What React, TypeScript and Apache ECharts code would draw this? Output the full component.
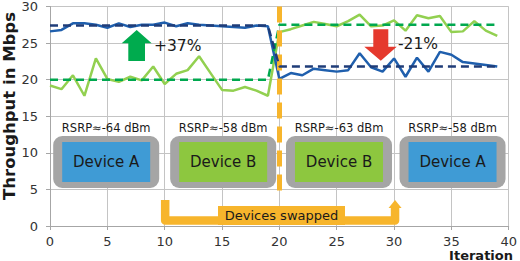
import React, { useEffect, useRef } from "react";
import * as echarts from "echarts";

const iterations = [0, 1, 2, 3, 4, 5, 6, 7, 8, 9, 10, 11, 12, 13, 14, 15, 16, 17, 18, 19, 20, 21, 22, 23, 24, 25, 26, 27, 28, 29, 30, 31, 32, 33, 34, 35, 36, 37, 38, 39];
const blueValues = [26.6, 26.8, 27.7, 27.7, 27.5, 27.1, 27.7, 27.2, 27.5, 27.5, 27.8, 27.3, 27.7, 27.5, 27.4, 27.3, 27.2, 27.1, 27.4, 27.3, 20.1, 20.9, 20.6, 21.5, 21.3, 21.1, 21.3, 23.6, 21.7, 21.1, 22.9, 20.4, 23.0, 21.1, 23.8, 23.4, 22.4, 22.2, 22.0, 21.8];
const greenValues = [19.2, 18.7, 20.6, 17.8, 22.9, 20.1, 19.7, 20.4, 19.9, 21.8, 19.4, 20.8, 21.3, 23.2, 20.9, 18.6, 18.5, 19.0, 18.5, 17.8, 26.5, 26.9, 27.4, 27.9, 27.6, 27.3, 28.0, 28.9, 27.3, 27.4, 28.1, 26.7, 28.8, 28.4, 28.7, 26.5, 26.6, 28.0, 26.7, 26.0];
const meanX = [0, 19, 20, 39];
const blueMean = [27.4, 27.4, 21.8, 21.8];
const greenMean = [20.0, 20.0, 27.5, 27.5];
const swapIteration = 20;
const boxCenters = [4.9, 15.1, 25.2, 35.1];
const rsrpLabels = ["RSRP≈-64 dBm", "RSRP≈-58 dBm", "RSRP≈-63 dBm", "RSRP≈-58 dBm"];
const deviceLabels = ["Device A", "Device B", "Device B", "Device A"];
const swapFrom = 10;
const swapTo = 30;

const FONT = "DejaVu Sans";
const ORANGE = "#F7B52C";
const DEVICE_FILL: Record<string, string> = { "Device A": "#3F9BD5", "Device B": "#8DC73F" };

export default function App() {
  const ref = useRef<HTMLDivElement>(null);
  useEffect(() => {
    document.body.style.margin = "0";
    const chart = echarts.init(ref.current!, undefined, { renderer: "svg" });
    const pair = (vals: number[], xs: number[]) => xs.map((x, i) => [x, vals[i]]);
    chart.setOption({
      animation: false,
      textStyle: { fontFamily: FONT },
      grid: { left: 50, right: 9, top: 6, bottom: 35 },
      xAxis: {
        type: "value", min: 0, max: 40, interval: 5,
        axisLine: { lineStyle: { color: "#A6A6A6", width: 1 } },
        axisTick: { show: true, length: 4, lineStyle: { color: "#A6A6A6" } },
        axisLabel: { fontSize: 13, color: "#333", margin: 9, fontFamily: FONT },
        splitLine: { lineStyle: { color: "#C4C4C4", width: 1 } },
      },
      yAxis: {
        type: "value", min: 0, max: 30, interval: 5,
        axisLine: { show: true, lineStyle: { color: "#A6A6A6", width: 1 } },
        axisTick: { show: true, length: 4, lineStyle: { color: "#A6A6A6" } },
        axisLabel: { fontSize: 13, color: "#333", margin: 12, fontFamily: FONT },
        splitLine: { lineStyle: { color: "#C4C4C4", width: 1 } },
      },
      series: [
        { type: "line", data: pair(greenValues, iterations), symbol: "none", lineStyle: { color: "#92D050", width: 2.5 }, z: 2 },
        { type: "line", data: pair(blueValues, iterations), symbol: "none", lineStyle: { color: "#1F5FAD", width: 2.5 }, z: 3 },
        { type: "line", data: pair(greenMean, meanX), symbol: "none", lineStyle: { color: "#00A84F", width: 2.5, type: [8, 5] }, z: 4 },
        {
          type: "line", data: pair(blueMean, meanX), symbol: "none", lineStyle: { color: "#1F3C78", width: 2.5, type: [8, 5] }, z: 5,
          markLine: {
            silent: true, symbol: "none", label: { show: false },
            lineStyle: { color: ORANGE, width: 5, type: [16, 8] },
            data: [[{ coord: [swapIteration, 30] }, { coord: [swapIteration, 4] }]],
          },
        },
      ],
    });

    const P = (x: number, y: number) => chart.convertToPixel({ gridIndex: 0 }, [x, y]) as number[];
    const g: any[] = [];
    boxCenters.forEach((c, i) => {
      const cx = P(c, 0)[0];
      const W = 106, H = 52, top = 136;
      g.push({ type: "rect", shape: { x: cx - W / 2, y: top, width: W, height: H, r: 9 }, style: { fill: "#A5A5A5" }, z: 10 });
      g.push({ type: "rect", shape: { x: cx - W / 2 + 9, y: top + 6, width: W - 18, height: H - 12 }, style: { fill: DEVICE_FILL[deviceLabels[i]] }, z: 11 });
      g.push({ type: "text", x: cx, y: top + H / 2, style: { text: deviceLabels[i], font: `15px '${FONT}'`, fill: "#1a1a1a", textAlign: "center", textVerticalAlign: "middle" }, z: 12 });
      g.push({ type: "text", x: cx, y: 127.5, style: { text: rsrpLabels[i], font: `11.5px '${FONT}'`, fill: "#1a1a1a", textAlign: "center", textVerticalAlign: "middle" }, z: 12 });
    });
    // swap bracket
    const lx = P(swapFrom, 0)[0] + 0.5;
    const rx = P(swapTo, 0)[0] + 1;
    g.push({ type: "polyline", shape: { points: [[lx, 200], [lx, 220.5], [rx, 220.5], [rx, 207]] }, style: { stroke: ORANGE, lineWidth: 8.5, fill: null, lineJoin: "round", lineCap: "butt" }, z: 10 });
    g.push({ type: "polygon", shape: { points: [[rx - 6.5, 208], [rx + 6.5, 208], [rx, 200]] }, style: { fill: ORANGE }, z: 10 });
    g.push({ type: "rect", shape: { x: 218, y: 206, width: 127, height: 19 }, style: { fill: ORANGE }, z: 11 });
    g.push({ type: "text", x: 281.5, y: 215.5, style: { text: "Devices swapped", font: `13px '${FONT}'`, fill: "#1a1a1a", textAlign: "center", textVerticalAlign: "middle" }, z: 12 });
    // arrows
    g.push({ type: "polygon", shape: { points: [[136.7, 30], [151.7, 43.3], [145, 43.3], [145, 61], [128.3, 61], [128.3, 43.3], [121.7, 43.3]] }, style: { fill: "#00AB4E" }, z: 12 });
    g.push({ type: "text", x: 154, y: 45.5, style: { text: "+37%", font: `15.5px '${FONT}'`, fill: "#1a1a1a", textAlign: "left", textVerticalAlign: "middle" }, z: 12 });
    g.push({ type: "polygon", shape: { points: [[373.3, 29.3], [388.3, 29.3], [388.3, 46.7], [396.7, 46.7], [380.8, 60.7], [364.3, 46.7], [373.3, 46.7]] }, style: { fill: "#E5392D" }, z: 12 });
    g.push({ type: "text", x: 398, y: 44.2, style: { text: "-21%", font: `15.5px '${FONT}'`, fill: "#1a1a1a", textAlign: "left", textVerticalAlign: "middle" }, z: 12 });
    // axis titles
    g.push({ type: "text", x: 9, y: 106, rotation: Math.PI / 2, style: { text: "Throughput in Mbps", font: `bold 16.5px '${FONT}'`, fill: "#1a1a1a", textAlign: "center", textVerticalAlign: "middle" }, z: 12 });
    g.push({ type: "text", x: 513, y: 255, style: { text: "Iteration", font: `bold 13px '${FONT}'`, fill: "#1a1a1a", textAlign: "right", textVerticalAlign: "middle" }, z: 12 });
    chart.setOption({ graphic: g });
    return () => chart.dispose();
  }, []);
  return <div ref={ref} style={{ width: 520, height: 261, position: "absolute", left: 0, top: 0 }} />;
}
